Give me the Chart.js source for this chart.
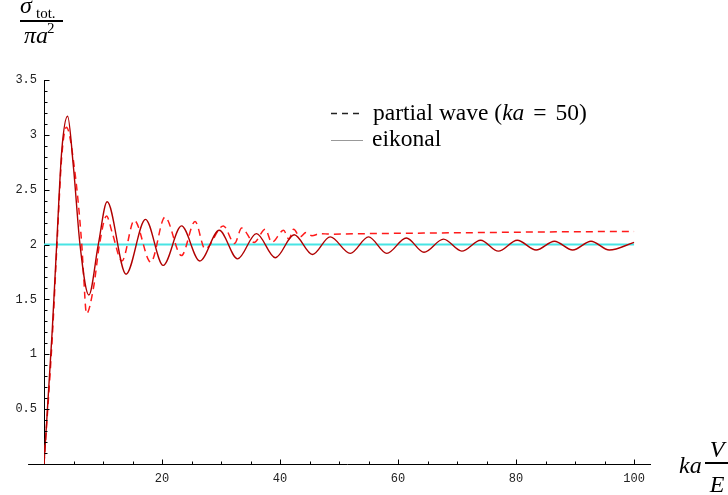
<!DOCTYPE html>
<html>
<head>
<meta charset="utf-8">
<script src="https://cdn.jsdelivr.net/npm/chart.js@4.4.0/dist/chart.umd.min.js"></script>
<style>
  html, body { margin: 0; padding: 0; background: #fff; }
  #wrap { width: 728px; height: 495px; position: relative; }
</style>
</head>
<body>
<div id="wrap"><canvas id="sigmaChart"></canvas></div>
<script>
// values (x = ka V/E, y = sigma_tot / pi a^2)
const eikonalX = [0, 1.4, 2.15, 3.0, 4.0, 5.0, 6.1, 7.6, 9.2, 10.7, 13.9, 17.2, 20.2, 23.3, 26.4, 29.7, 32.8, 36.0, 39.2, 42.4,
  45.5, 48.5, 51.9, 55.0, 58.1, 61.4, 64.4, 67.7, 70.8, 74.0, 77.0, 80.2, 83.4, 86.5, 89.6, 92.7, 95.8, 100];
const eikonalY = [0, 1.22, 2.0, 2.85, 3.17, 2.70, 2.0, 1.54, 2.0, 2.39, 1.73, 2.23, 1.81, 2.17, 1.85, 2.13, 1.87, 2.10, 1.88, 2.09,
  1.91, 2.07, 1.92, 2.07, 1.92, 2.06, 1.93, 2.05, 1.94, 2.04, 1.94, 2.04, 1.95, 2.03, 1.95, 2.03, 1.95, 2.02];

const partialX = [0, 1.4, 2.2, 3.0, 3.8, 5.1, 6.4, 6.7, 7.2, 8.4, 9.4, 10.6, 11.6, 13.2, 15.3, 18.1, 20.5, 23.3, 25.6, 27.3,
  30.4, 32.3, 33.5, 35.6, 37.5, 38.6, 40.6, 41.5, 42.3, 43.4, 44.4, 45.4, 46.8, 48.5, 55, 65, 75, 85, 100];
const partialY = [0, 1.15, 2.0, 2.8, 3.07, 2.72, 2.0, 1.73, 1.37, 1.61, 2.0, 2.26, 2.10, 1.85, 2.22, 1.84, 2.25, 1.90, 2.21, 1.96,
  2.17, 2.01, 2.15, 2.02, 2.14, 2.02, 2.13, 2.05, 2.14, 2.07, 2.11, 2.08, 2.10, 2.095, 2.10, 2.105, 2.11, 2.115, 2.12];

const classicalX = [0, 100];
const classicalY = [2, 2];

const xTickLabels = [20, 40, 60, 80, 100];
const yTickLabels = [0.5, 1, 1.5, 2, 2.5, 3, 3.5];
const xMinorStep = 5;
const yMinorStep = 0.1;
const xAxisStart = -2.7;
const xAxisEnd = 102.7;

function toPoints(xs, ys) {
  return xs.map((x, i) => ({ x: x, y: ys[i] }));
}

function stepValues(step, last) {
  const out = [];
  for (let i = 1; i * step <= last + 1e-9; i++) out.push(Math.round(i * step * 100) / 100);
  return out;
}

const tickFont = { family: 'Liberation Mono', size: 12 };
const serif = '"Liberation Serif", "DejaVu Serif", serif';

// little inward tick marks + the bit of x axis left of the y axis
const axisMarks = {
  id: 'axisMarks',
  afterDatasetsDraw(chart) {
    const { ctx, chartArea } = chart;
    const xs = chart.scales.x, ys = chart.scales.y;
    const ay = Math.round(ys.getPixelForValue(0) - 0.5) + 0.5;
    const ax = Math.round(xs.getPixelForValue(0) - 0.5) + 0.5;
    ctx.save();
    ctx.strokeStyle = '#000';
    ctx.lineWidth = 1;
    ctx.beginPath();
    ctx.moveTo(xs.getPixelForValue(xAxisStart), ay);
    ctx.lineTo(chartArea.left + 1, ay);
    xs.ticks.forEach(t => {
      const px = Math.round(xs.getPixelForValue(t.value)) + 0.5;
      const len = xTickLabels.includes(t.value) ? 5 : 3;
      ctx.moveTo(px, ay);
      ctx.lineTo(px, ay - len);
    });
    ys.ticks.forEach(t => {
      const py = Math.round(ys.getPixelForValue(t.value)) + 0.5;
      const r = Math.round(t.value * 10) / 10;
      const len = yTickLabels.includes(r) ? 5 : 3;
      ctx.moveTo(ax, py);
      ctx.lineTo(ax + len, py);
    });
    ctx.stroke();
    ctx.restore();
  }
};

// axis titles and the legend box
const labels = {
  id: 'labels',
  afterDraw(chart) {
    const ctx = chart.ctx;
    ctx.save();
    ctx.fillStyle = '#000';
    ctx.strokeStyle = '#000';
    ctx.textBaseline = 'alphabetic';

    // y title: sigma_tot. / pi a^2
    ctx.font = 'italic 24px ' + serif;
    ctx.fillText('\u03C3', 20, 13);
    ctx.font = '15px ' + serif;
    ctx.fillText('tot.', 36, 18);
    ctx.lineWidth = 2;
    ctx.beginPath(); ctx.moveTo(20, 21); ctx.lineTo(63, 21); ctx.stroke();
    ctx.font = 'italic 24px ' + serif;
    ctx.fillText('\u03C0a', 24, 43);
    const piW = ctx.measureText('\u03C0a').width;
    ctx.font = '15px ' + serif;
    ctx.fillText('2', 24 + piW - 1, 33);

    // x title: ka V/E
    ctx.font = 'italic 24px ' + serif;
    ctx.fillText('ka', 679, 473);
    ctx.textAlign = 'center';
    ctx.fillText('V', 717, 457);
    ctx.fillText('E', 717, 492);
    ctx.beginPath(); ctx.moveTo(705, 463); ctx.lineTo(728, 463); ctx.stroke();
    ctx.textAlign = 'left';

    // legend
    ctx.lineWidth = 1.3;
    ctx.strokeStyle = '#222';
    ctx.setLineDash([6, 5]);
    ctx.beginPath(); ctx.moveTo(331, 113.5); ctx.lineTo(362, 113.5); ctx.stroke();
    ctx.setLineDash([]);
    ctx.strokeStyle = '#999';
    ctx.lineWidth = 1;
    ctx.beginPath(); ctx.moveTo(331, 140.5); ctx.lineTo(363, 140.5); ctx.stroke();

    let x = 373;
    ctx.font = '23.5px ' + serif;
    ctx.fillText('partial wave (', x, 120);
    x += ctx.measureText('partial wave (').width;
    ctx.font = 'italic 23.5px ' + serif;
    ctx.fillText('ka', x, 120);
    x += ctx.measureText('ka').width + 9;
    ctx.font = '23.5px ' + serif;
    ctx.fillText('=', x, 120);
    x += ctx.measureText('=').width + 9;
    ctx.fillText('50)', x, 120);
    ctx.fillText('eikonal', 372, 146);
    ctx.restore();
  }
};

const ctx = document.getElementById('sigmaChart').getContext('2d');
new Chart(ctx, {
  type: 'line',
  data: {
    datasets: [{
      label: 'eikonal',
      data: toPoints(eikonalX, eikonalY),
      borderColor: '#b00000',
      borderWidth: 1.4,
      cubicInterpolationMode: 'monotone'
    }, {
      label: 'partial wave (ka = 50)',
      data: toPoints(partialX, partialY),
      borderColor: '#ff1a1a',
      borderWidth: 1.5,
      borderDash: [7, 5],
      cubicInterpolationMode: 'monotone'
    }, {
      label: 'classical',
      data: toPoints(classicalX, classicalY),
      borderColor: '#48e4e4',
      borderWidth: 2
    }]
  },
  options: {
    responsive: true,
    maintainAspectRatio: false,
    animation: false,
    parsing: false,
    elements: { point: { radius: 0 }, line: { fill: false } },
    layout: { padding: { left: 0, right: 728 - 650, top: 80, bottom: 0 } },
    plugins: { legend: { display: false }, tooltip: { enabled: false } },
    scales: {
      x: {
        type: 'linear',
        min: 0,
        max: xAxisEnd,
        border: { display: true, color: '#000', width: 1 },
        grid: { display: false, drawTicks: false },
        afterBuildTicks: s => { s.ticks = stepValues(xMinorStep, 100).map(v => ({ value: v })); },
        afterFit: s => { s.height = 31; },
        ticks: {
          autoSkip: false,
          maxRotation: 0,
          padding: 8,
          color: '#222',
          font: tickFont,
          callback: v => xTickLabels.includes(v) ? String(v) : ''
        }
      },
      y: {
        type: 'linear',
        min: 0,
        max: 3.5,
        border: { display: true, color: '#000', width: 1 },
        grid: { display: false, drawTicks: false },
        afterBuildTicks: s => { s.ticks = stepValues(yMinorStep, 3.5).map(v => ({ value: v })); },
        afterFit: s => { s.width = 44; },
        ticks: {
          autoSkip: false,
          padding: 7,
          color: '#222',
          font: tickFont,
          callback: v => {
            const r = Math.round(v * 10) / 10;
            return yTickLabels.includes(r) ? String(r) : '';
          }
        }
      }
    }
  },
  plugins: [axisMarks, labels]
});
</script>
</body>
</html>
